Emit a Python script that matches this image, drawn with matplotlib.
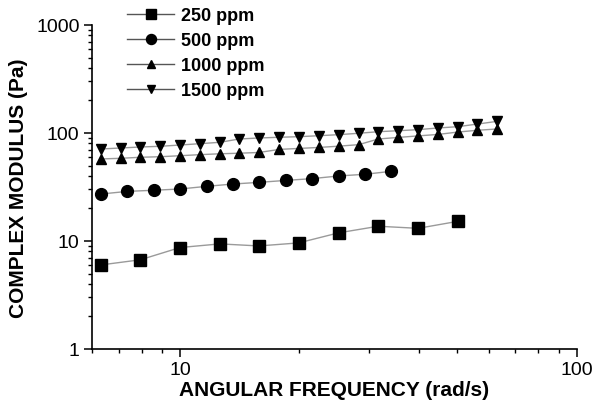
import numpy as np
import matplotlib.pyplot as plt

plt.rcParams['font.family'] = ['Liberation Sans', 'DejaVu Sans']

# frequencies (rad/s)
freq_250 = [6.31, 7.94, 10.0, 12.6, 15.8, 19.9, 25.1, 31.6, 39.8, 50.1]
freq_500 = [6.31, 7.36, 8.58, 10.0, 11.7, 13.6, 15.8, 18.5, 21.5, 25.1, 29.3, 34.1]
freq_hi = [6.31, 7.08, 7.94, 8.91, 10.0, 11.2, 12.6, 14.1, 15.8, 17.8, 20.0,
           22.4, 25.1, 28.2, 31.6, 35.5, 39.8, 44.7, 50.1, 56.2, 63.1]

# complex modulus (Pa)
g_250 = [6.0, 6.7, 8.7, 9.4, 9.0, 9.6, 11.9, 13.7, 13.1, 15.2]
g_500 = [27.2, 28.8, 29.5, 30.3, 32.1, 33.7, 34.9, 36.4, 37.8, 40.0, 41.5, 44.2]
g_1000 = [57.5, 58.3, 59.6, 60.3, 61.6, 63.0, 64.2, 65.0, 66.0, 70.5, 72.0,
          73.5, 75.5, 78.0, 88.0, 91.0, 94.0, 97.0, 102.0, 106.0, 109.0]
g_1500 = [71.1, 72.6, 74.2, 75.3, 77.4, 79.6, 82.0, 88.0, 89.9, 91.3, 92.5,
          94.4, 96.5, 99.4, 102.8, 105.0, 107.4, 111.3, 114.4, 121.0, 128.3]

fig = plt.figure(figsize=(5.94, 4.14), dpi=100)
ax = fig.add_axes([0.155, 0.1546, 0.816, 0.7826])

lc = '#9a9a9a'
l1, = ax.plot(freq_250, g_250, color=lc, lw=1, marker='s', ms=8, mfc='black', mec='black', label='250 ppm')
l2, = ax.plot(freq_500, g_500, color=lc, lw=1, marker='o', ms=8.5, mfc='black', mec='black', label='500 ppm')
l3, = ax.plot(freq_hi, g_1000, color=lc, lw=1, marker='^', ms=6.5, mfc='black', mec='black', label='1000 ppm')
l4, = ax.plot(freq_hi, g_1500, color=lc, lw=1, marker='v', ms=6.5, mfc='black', mec='black', label='1500 ppm')

ax.set_xscale('log')
ax.set_yscale('log')
ax.set_xlim(6, 100)
ax.set_ylim(1, 1000)
ax.set_xticks([10, 100])
ax.set_xticklabels(['10', '100'])
ax.set_yticks([1, 10, 100, 1000])
ax.set_yticklabels(['1', '10', '100', '1000'])

ax.spines['top'].set_visible(False)
ax.spines['right'].set_visible(False)
for s in ['left', 'bottom']:
    ax.spines[s].set_linewidth(1.2)
ax.tick_params(which='major', length=6, width=1.1, labelsize=14, pad=3)
ax.tick_params(which='minor', length=3, width=1.0)

ax.set_xlabel('ANGULAR FREQUENCY (rad/s)', fontsize=15, fontweight='bold', labelpad=1)
ax.set_ylabel('COMPLEX MODULUS (Pa)', fontsize=15, fontweight='bold', labelpad=6)

handles = []
for l in [l1, l2, l3, l4]:
    h, = ax.plot([], [], color='#555555', lw=1, marker=l.get_marker(), ms=l.get_markersize() * 0.85,
                 mfc='black', mec='black', label=l.get_label())
    handles.append(h)
leg = fig.legend(handles=handles, loc='upper left', bbox_to_anchor=(120 / 594, 0.998),
                 frameon=False, fontsize=13, handlelength=2.6, handletextpad=0.4,
                 labelspacing=0.45, borderaxespad=0)
for t in leg.get_texts():
    t.set_fontweight('bold')

fig.savefig('out.png', dpi=100)
